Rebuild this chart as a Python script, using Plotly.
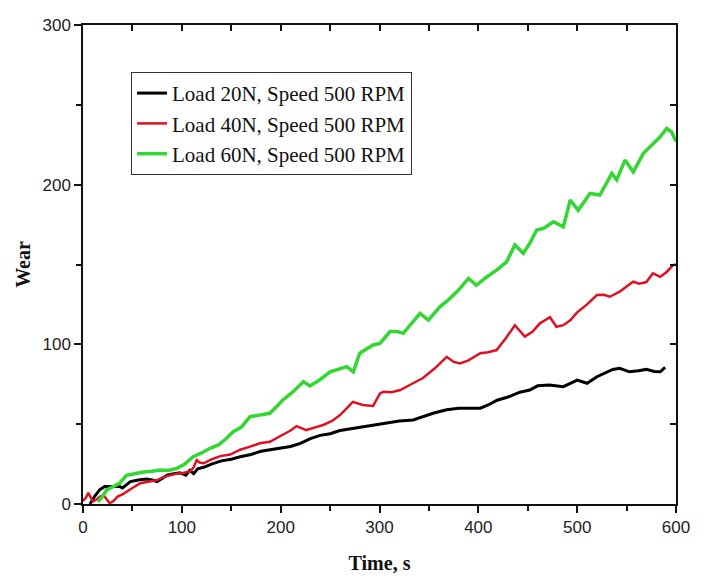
import plotly.graph_objects as go

# ---- data ----
t_20 = [7, 12, 17, 22, 30, 37, 40, 44, 48, 56, 64, 70, 75, 80, 85, 92, 98, 104, 108, 112, 116, 122,
        130, 140, 150, 159, 170, 180, 190, 200, 210, 220, 230, 240, 250, 260, 270, 280, 290, 300,
        310, 320, 334, 345, 355, 368, 380, 390, 402, 410, 419, 430, 442, 452, 460, 472, 486, 500,
        510, 520, 528, 536, 543, 553, 562, 570, 578, 584, 589]
w_20 = [0, 5, 9, 11, 11, 11, 10, 12, 14, 15, 15.6, 15, 14, 16, 18, 19, 19.6, 18, 21, 19, 22, 23,
        25, 27, 28, 29.6, 31, 33, 34, 35, 36, 38, 41, 43, 44, 46, 47, 48, 49, 50,
        51, 52, 52.6, 55, 57, 59, 60, 60, 60, 62, 65, 67, 70, 71.4, 74, 74.5, 73.5, 77.6,
        75.6, 79.7, 82, 84.3, 85, 82.8, 83.5, 84.3, 83, 82.8, 85.6]

t_40 = [0, 3, 5.4, 8, 10, 14, 18, 22, 27, 31, 35, 40, 44, 50, 58, 63, 68, 75, 82, 88, 95, 101,
        108, 112, 115, 118, 122, 130, 139, 149, 159, 169, 179, 189, 202, 210, 216, 226, 235, 243,
        252, 260, 267, 273, 283, 293.5, 300.5, 304, 312, 321, 332, 344, 356, 368, 375, 381.5, 390,
        402, 410, 418.5, 428, 437, 447, 455, 462, 472.5, 479, 486, 493, 500, 510, 520, 527, 533,
        543, 550, 556.5, 563, 570, 576.6, 584, 590, 597, 600]
w_40 = [2, 4, 7, 4, 1.5, 3, 5, 4.6, 0.5, 2, 4.6, 6, 7.7, 10, 13, 13.5, 14, 15, 17, 18, 19, 19.4,
        20.3, 23, 27.5, 26, 25.5, 28, 30, 31, 34, 35.9, 38, 39, 43.2, 46, 48.8, 46.3, 48, 49.5,
        52, 55.7, 60, 64, 62, 61.4, 69.3, 70.3, 70, 71.4, 75, 78.9, 85, 92.2, 89, 88, 90,
        94.4, 95, 96.4, 104, 112, 104.8, 108, 113, 117, 111, 112, 115, 120, 125, 130.9, 131, 129.8,
        133, 136, 139.2, 138, 139, 144.5, 142.3, 145, 149.6, 150]

t_60 = [15, 20, 24, 30, 37, 44, 52, 61, 70, 78, 86, 95, 103, 111.5, 120, 128.5, 137, 145, 152, 160,
        169, 179, 189, 196, 202, 212, 223, 229.7, 240, 250, 260, 267, 273.5, 280, 293.5, 300.5,
        310.6, 318, 324, 332, 341, 349.5, 361, 370, 380, 390, 398, 408, 418.5, 428.6, 437, 445.5,
        452, 459, 465.8, 476, 486, 493, 501, 513, 523, 535, 540, 548.4, 556.8, 567, 577, 584,
        590.6, 595.6, 600]
w_60 = [1.4, 5, 8.8, 11, 13, 18, 19, 20, 20.5, 21.3, 21, 22.3, 25, 29.6, 32, 34.9, 37, 41, 45.3, 48,
        54.7, 56, 56.8, 61, 65, 70, 76.6, 73.9, 78, 82.8, 85, 86, 82.8, 94.4, 99.6, 100.6,
        108, 108, 106.9, 113, 119.4, 115.2, 123.5, 128, 134, 141.3, 137, 142, 146.5, 151.7, 162.2, 157,
        163.2, 171.6, 172.6, 176.8, 173.6, 190.4, 184, 194.5, 193.5, 207, 203, 215.4, 208, 219.6, 225.8, 230,
        235.2, 233, 227]

names = ["Load 20N, Speed 500 RPM", "Load 40N, Speed 500 RPM", "Load 60N, Speed 500 RPM"]
colors = ["#000000", "#dd1122", "#33d633"]
widths = [3, 2.5, 3.5]

fig = go.Figure()
for t, w, n, c, lw in zip([t_20, t_40, t_60], [w_20, w_40, w_60], names, colors, widths):
    fig.add_trace(go.Scatter(x=t, y=w, mode="lines", name=n,
                             line=dict(color=c, width=lw)))

tickfont = dict(family="Liberation Sans, Arial", size=17, color="#222")
titlefont = dict(family="Liberation Serif, Times New Roman", size=20, color="#111")

fig.update_layout(
    width=707, height=576,
    margin=dict(l=75, r=39, t=17, b=80),
    paper_bgcolor="white", plot_bgcolor="white",
    showlegend=True,
    legend=dict(x=0.081, y=0.902, xanchor="left", yanchor="top",
                bgcolor="white", bordercolor="#333", borderwidth=1,
                entrywidth=270, entrywidthmode="pixels",
                font=dict(family="Liberation Serif, Times New Roman", size=21, color="#111")),
    xaxis=dict(range=[0, 600], tickvals=[0, 100, 200, 300, 400, 500, 600], automargin=False,
               ticks="outside", ticklen=7, tickwidth=1.5, tickcolor="#111",
               minor=dict(dtick=50, ticks="outside", ticklen=5, tickwidth=1.5, tickcolor="#111"),
               showline=True, linecolor="#111", linewidth=1.5, showgrid=False, zeroline=False,
               tickfont=tickfont,
               title=dict(text="<b>Time, s</b>", font=titlefont, standoff=20)),
    yaxis=dict(range=[0, 300], tickvals=[0, 100, 200, 300], automargin=False,
               ticks="outside", ticklen=7, tickwidth=1.5, tickcolor="#111",
               minor=dict(dtick=50, ticks="outside", ticklen=5, tickwidth=1.5, tickcolor="#111"),
               showline=True, linecolor="#111", linewidth=1.5, showgrid=False, zeroline=False,
               tickfont=tickfont,
               title=dict(text="<b>Wear</b>", font=titlefont, standoff=6)),
    xaxis2=dict(range=[0, 600], overlaying="x", side="top", dtick=50, tick0=0,
                ticks="inside", ticklen=6, tickwidth=1.5, tickcolor="#111",
                showticklabels=False, showline=True, linecolor="#111", linewidth=1.5,
                showgrid=False, zeroline=False),
    yaxis2=dict(range=[0, 300], overlaying="y", side="right", dtick=50, tick0=0,
                ticks="inside", ticklen=6, tickwidth=1.5, tickcolor="#111",
                showticklabels=False, showline=True, linecolor="#111", linewidth=1.5,
                showgrid=False, zeroline=False),
)
# invisible helper trace so the mirrored frame axes are drawn
fig.add_trace(go.Scatter(x=[None], y=[None], xaxis="x2", yaxis="y2",
                         showlegend=False, hoverinfo="skip"))

fig.write_html("out.html")
